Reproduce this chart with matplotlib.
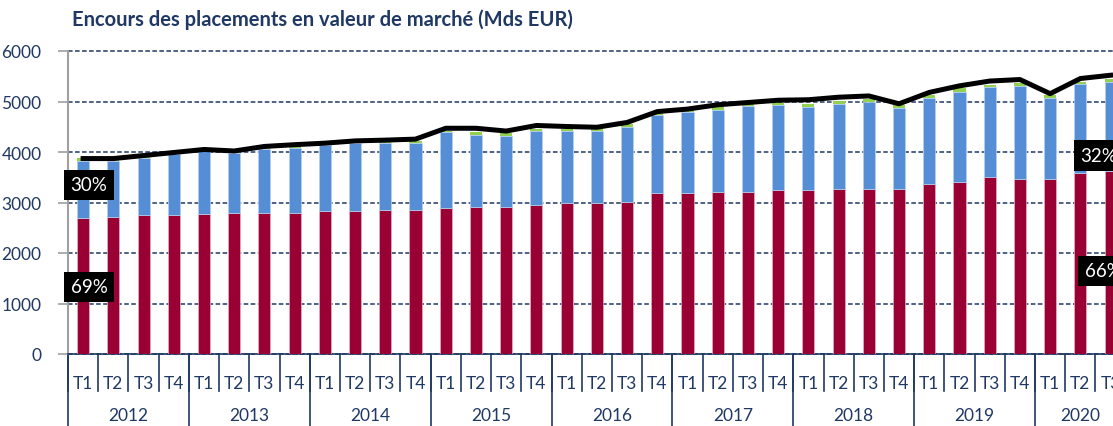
import matplotlib.pyplot as plt
import matplotlib.transforms as mtransforms
import numpy as np

plt.rcParams['font.family'] = ['Lato', 'DejaVu Sans']

# données (Mds EUR), 2012 T1 -> 2020 T3
years = ['2012', '2013', '2014', '2015', '2016', '2017', '2018', '2019', '2020']
quarters_per_year = [4, 4, 4, 4, 4, 4, 4, 4, 3]
red = [2687, 2719, 2746, 2746, 2779, 2798, 2798, 2798, 2838, 2838, 2860, 2860,
       2891, 2917, 2917, 2957, 2983, 2983, 3010, 3182, 3182, 3214, 3214, 3241,
       3241, 3274, 3274, 3274, 3360, 3413, 3505, 3472, 3472, 3591, 3630]
blue = [1141, 1109, 1141, 1208, 1235, 1176, 1267, 1281, 1301, 1340, 1325, 1318,
        1499, 1426, 1406, 1452, 1426, 1426, 1492, 1551, 1604, 1624, 1690, 1694,
        1656, 1683, 1716, 1597, 1709, 1775, 1776, 1835, 1597, 1749, 1763]
green = [45, 25, 20, 20, 20, 20, 20, 25, 25, 25, 25, 30,
         35, 50, 45, 50, 40, 40, 45, 45, 40, 55, 50, 45,
         55, 55, 60, 50, 60, 70, 55, 55, 60, 55, 55]
total = [3870, 3870, 3930, 3990, 4050, 4020, 4110, 4145, 4175, 4220, 4235, 4255,
         4470, 4470, 4415, 4525, 4505, 4490, 4585, 4800, 4850, 4935, 4980, 5025,
         5035, 5085, 5110, 4955, 5180, 5310, 5405, 5435, 5155, 5455, 5520]
labels_pct = ['30%', '69%', '32%', '66%']
labels_pos = [(0.2, 3350), (0.2, 1330), (33.62, 3930), (33.75, 1645)]

navy = '#1F3864'
c_red = '#990033'
c_blue = '#558ED5'
c_green = '#92D050'

n = len(red)
x = np.arange(n)
qlabels = []
for q in quarters_per_year:
    qlabels += ['T%d' % (k + 1) for k in range(q)]

W, H = 1113, 427
fig = plt.figure(figsize=(W / 100, H / 100), dpi=100)
ax = fig.add_axes([68 / W, (H - 355) / H, (W - 68) / W, 303 / H])

red = np.array(red)
blue = np.array(blue)
ax.bar(x, red, width=0.4, color=c_red, edgecolor='#E8B0C0', linewidth=0.5, zorder=3)
ax.bar(x, blue, bottom=red, width=0.4, color=c_blue, edgecolor='#B8D0EE', linewidth=0.5, zorder=3)
ax.bar(x, green, bottom=red + blue, width=0.4, color=c_green, linewidth=0, zorder=3)
ax.plot(x, total, color='black', linewidth=3.6, solid_joinstyle='round', zorder=4)

for s, (px, py) in zip(labels_pct, labels_pos):
    ax.text(px, py, s, color='white', fontsize=13.5, ha='center', va='center', zorder=6,
            bbox=dict(boxstyle='square,pad=0.35', fc='black', ec='none'), clip_on=False)

ax.set_xlim(-0.5, -0.5 + (W - 68) / 30.22)
ax.set_ylim(0, 6000)
ax.set_yticks(range(0, 7000, 1000))
ax.tick_params(axis='y', colors='#A0A0A0', labelcolor=navy, labelsize=12.5, length=7, width=1.2, pad=12)
ax.yaxis.grid(True, color=navy, linestyle=(0, (3, 1.6)), linewidth=1.1, zorder=0)
for gl in ax.get_ygridlines():
    gl.set_clip_on(False)

ax.set_xticks(x)
ax.set_xticklabels(qlabels, color=navy, fontsize=12.5)
ax.tick_params(axis='x', length=0, pad=15)

for sp in ['top', 'right']:
    ax.spines[sp].set_visible(False)
ax.spines['left'].set_color('#A0A0A0')
ax.spines['left'].set_linewidth(1.5)
ax.spines['bottom'].set_color(navy)
ax.spines['bottom'].set_linewidth(1.2)

# séparateurs trimestres / années
trans = mtransforms.blended_transform_factory(ax.transData, ax.transAxes)
starts = np.cumsum([0] + quarters_per_year)
for b in np.arange(n + 1) - 0.5:
    ax.plot([b, b], [0, -37 / 303], color=navy, lw=1.2, transform=trans, clip_on=False)
for s in starts:
    ax.plot([s - 0.5, s - 0.5], [0, -80 / 303], color=navy, lw=1.2, transform=trans, clip_on=False)
for k, yr in enumerate(years):
    mid = (starts[k] + starts[k + 1] - 1) / 2
    ax.text(mid, -61 / 303, yr, color=navy, fontsize=12.5, ha='center', va='center',
            transform=trans, clip_on=False)

fig.text(72 / W, 1 - 20 / H, 'Encours des placements en valeur de marché (Mds EUR)',
         color=navy, fontsize=14.5, fontweight='bold', va='center', ha='left')

fig.savefig('out.png', dpi=100)
